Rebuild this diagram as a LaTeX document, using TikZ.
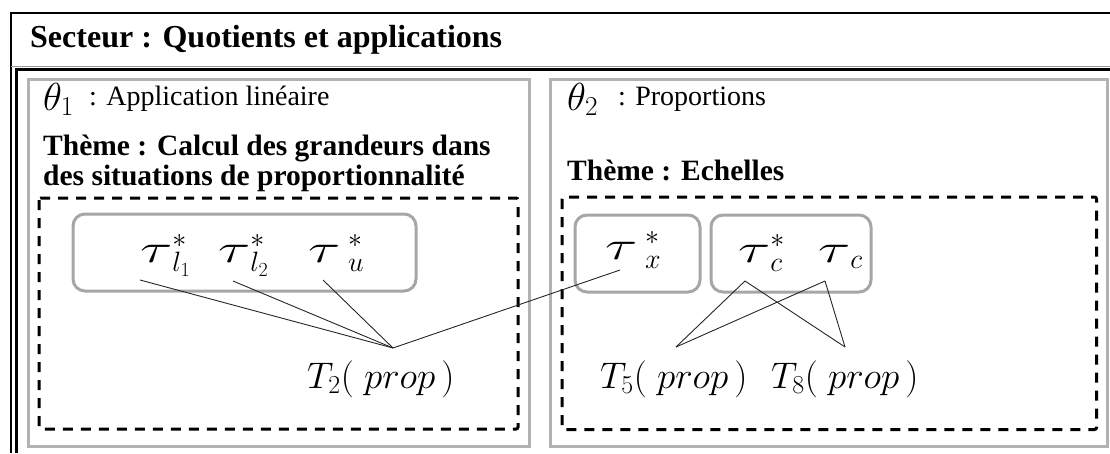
\RequirePackage{fix-cm}
\documentclass[tikz,border=0pt]{standalone}
\usepackage{fontspec}
\setmainfont{Liberation Serif}
\usepackage{graphicx}
\usetikzlibrary{positioning}

\newcommand{\ttau}{\mathord{\scalebox{1.5}[1]{$\tau$}}}
\newcommand{\titlefont}{\fontsize{32}{37}\selectfont\bfseries}
\newcommand{\themefont}{\fontsize{29.5}{34}\selectfont\bfseries}
\newcommand{\subjfont}{\fontsize{28}{33}\selectfont}
\newcommand{\thetafont}{\fontsize{39}{45}\selectfont}
\newcommand{\taufont}{\fontsize{40}{46}\selectfont}
\newcommand{\propfont}{\fontsize{37}{42}\selectfont}

\begin{document}
\begin{tikzpicture}[x=1pt,y=-1pt,
   frame/.style={line width=1.8pt},
   panel/.style={draw=black!30,line width=3pt},
   zone/.style={draw,line width=3pt,dash pattern=on 10pt off 8pt,rounded corners=2pt},
   group/.style={draw=black!35,line width=3pt,rounded corners=12pt},
   txt/.style={inner sep=0pt,anchor=base west},
   link/.style={line width=0.9pt,black!85}
  ]
  \useasboundingbox (0,0) rectangle (1110,453);
  % outer frames
  \draw[frame] (11,453) -- (11,13) -- (1110,13);
  \draw[black!40,line width=1pt] (11,66) -- (1110,66);
  \draw[line width=3.5pt] (16.5,453) -- (16.5,69.5) -- (1110,69.5);
  \node[txt,font=\titlefont] (sect) at (30,47) {Secteur : Quotients et applications};

  % panel 1
  \draw[panel] (28.5,79) rectangle (529,446);
  \node[txt,font=\thetafont] (th1) at (43,110) {$\theta_1$};
  \node[txt,font=\subjfont] (app) at (89,105) {: Application linéaire};
  \node[txt,font=\themefont] (thm1) at (43,155) {Thème : Calcul des grandeurs dans};
  \node[txt,font=\themefont] (thm1b) at (43,185) {des situations de proportionnalité};
  \draw[zone] (39,198) rectangle (518,429);
  \draw[group] (73,214) rectangle (416,291);
  \node[txt,font=\taufont] (tl1) at (140,262) {$\ttau^{*}_{l_1}$};
  \node[txt,font=\taufont] (tl2) at (218,262) {$\ttau^{*}_{l_2}$};
  \node[txt,font=\taufont] (tu) at (308,262) {$\ttau^{\;*}_{\;u}$};
  \node[txt,font=\propfont] (t2) at (307,388) {$T_2(\;prop\,)$};

  % panel 2
  \draw[panel] (550.5,79) rectangle (1107.5,446);
  \node[txt,font=\thetafont] (th2) at (567,110) {$\theta_2$};
  \node[txt,font=\subjfont] (prp) at (618,105) {: Proportions};
  \node[txt,font=\themefont] (thm2) at (567,180) {Thème : Echelles};
  \draw[zone] (562,197) rectangle (1096.5,429.5);
  \draw[group] (575,215) rectangle (700,292);
  \draw[group] (711,215) rectangle (871,292);
  \node[txt,font=\taufont] (tx) at (605,259) {$\ttau^{\;*}_{\;x}$};
  \node[txt,font=\taufont] (tcs) at (738,262) {$\ttau^{*}_{c}$};
  \node[txt,font=\taufont] (tc) at (818,262) {$\ttau_{c}$};
  \node[txt,font=\propfont] (t5) at (600,388) {$T_5(\;prop\,)$};
  \node[txt,font=\propfont] (t8) at (771,388) {$T_8(\;prop\,)$};

  % links
  \draw[link] ([yshift=-18pt]tl1.base west) -- ([xshift=86pt,yshift=40pt]t2.base west);
  \draw[link] ([xshift=15pt,yshift=-19pt]tl2.base west) -- ([xshift=86pt,yshift=40pt]t2.base west);
  \draw[link] ([xshift=15pt,yshift=-18pt]tu.base west) -- ([xshift=86pt,yshift=40pt]t2.base west);
  \draw[link] ([xshift=15pt,yshift=-11pt]tx.base west) -- ([xshift=86pt,yshift=40pt]t2.base west);
  \draw[link] ([xshift=7pt,yshift=-19pt]tcs.base west) -- ([xshift=76pt,yshift=41pt]t5.base west);
  \draw[link] ([xshift=7pt,yshift=-19pt]tcs.base west) -- ([xshift=74pt,yshift=41pt]t8.base west);
  \draw[link] ([xshift=7pt,yshift=-19pt]tc.base west) -- ([xshift=76pt,yshift=41pt]t5.base west);
  \draw[link] ([xshift=7pt,yshift=-19pt]tc.base west) -- ([xshift=74pt,yshift=41pt]t8.base west);
\end{tikzpicture}
\end{document}
